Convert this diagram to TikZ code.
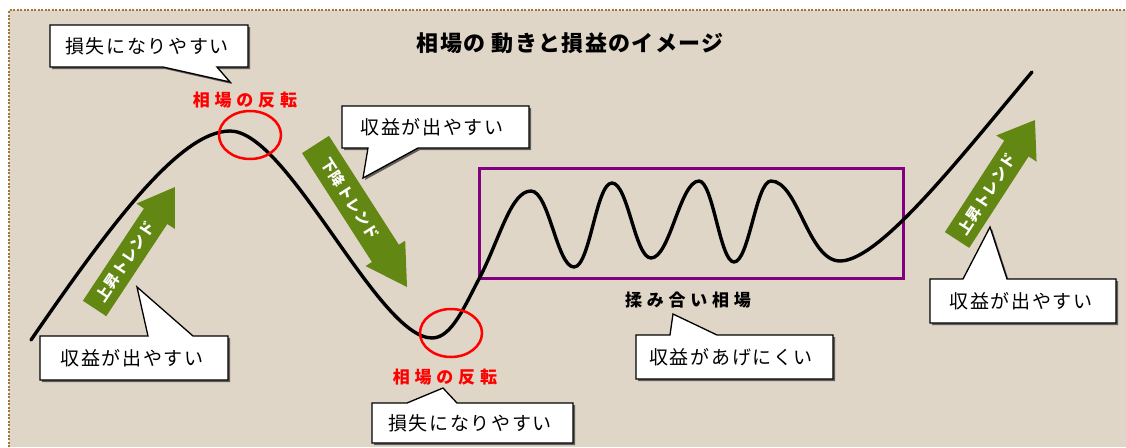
\documentclass[tikz,border=0pt]{standalone}
\usepackage{fontspec}
\newfontfamily\jpc[LetterSpace=9]{Noto Sans CJK JP}
\newfontfamily\jpr[LetterSpace=28]{Noto Sans CJK JP}
\newfontfamily\jpt[LetterSpace=6]{Noto Sans CJK JP}
\newfontfamily\jpa[LetterSpace=4]{Noto Sans CJK JP}
\usetikzlibrary{shapes.geometric,shadows}
\definecolor{bgc}{RGB}{224,214,200}
\definecolor{brd}{RGB}{165,115,60}
\definecolor{agreen}{RGB}{98,135,18}
\definecolor{rangec}{RGB}{128,0,128}
\tikzset{
  callout/.style={draw=black, line width=1.3pt, fill=white, line join=miter,
    drop shadow={shadow xshift=2pt, shadow yshift=-2pt, fill=black!75, opacity=0.8}},
  ctext/.style={font=\jpc\fontsize{19}{21}\selectfont, inner sep=0pt},
  redtext/.style={font=\jpr\bfseries\fontsize{17}{19}\selectfont, text=red, inner sep=0pt},
  revcircle/.style={ellipse, draw=red, line width=2.5pt, minimum width=62pt, minimum height=48pt, inner sep=0pt},
  arrowtext/.style={font=\jpa\bfseries\fontsize{15}{17}\selectfont, text=white, inner sep=0pt},
  trendarrow/.style={fill=agreen},
  price/.style={draw=black, line width=3.4pt, line cap=round, line join=round}
}
\begin{document}
\begin{tikzpicture}[x=1pt,y=-1pt]
\useasboundingbox (0,0) rectangle (1126,447);
\fill[white] (0,0) rectangle (1126,447);
\fill[bgc] (9,10) rectangle (1126,447);
\draw[brd, line width=2pt, dash pattern=on 2pt off 1.5pt] (9,447) -- (9,10) -- (1126,10);

% title
\node[font=\jpt\bfseries\fontsize{22}{26}\selectfont, inner sep=0pt] (title) at (570,43) {相場の 動きと損益のイメージ};

% range box
\node[draw=rangec, line width=3pt, minimum width=424pt, minimum height=110pt, inner sep=0pt] (range) at (691,223) {};

% price curve
\draw[price] (31,340) .. controls (110,225) and (180,131) .. (230,131)
  .. controls (288,131) and (378,338) .. (432,338)
  .. controls (452,338) and (465,305) .. (480,277)
  .. controls (500,238) and (511,191) .. (531,191)
  .. controls (549,191) and (557,267) .. (574,267)
  .. controls (590,267) and (596,183) .. (612,183)
  .. controls (628,183) and (635,258) .. (651,258)
  .. controls (670,258) and (680,181) .. (699,181)
  .. controls (713,181) and (720,262) .. (734,262)
  .. controls (749,262) and (756,181) .. (771,181)
  .. controls (798,181) and (808,261) .. (840,261)
  .. controls (880,261) and (962,155) .. (1032,72);

% trend arrows
\begin{scope}[shift={(134.75,247.75)}, rotate=56.5]
  \fill[trendarrow] (-72.8,-14) -- (37.8,-14) -- (37.8,-23) -- (72.8,0) -- (37.8,23) -- (37.8,14) -- (-72.8,14) -- cycle;
  \node[arrowtext, rotate=56.5] (up1) at (-17,0) {上昇トレンド};
\end{scope}
\begin{scope}[shift={(361.25,215.75)}, rotate=-57.3]
  \fill[trendarrow] (-84.7,-16) -- (44.7,-16) -- (44.7,-23.5) -- (84.7,0) -- (44.7,23.5) -- (44.7,16) -- (-84.7,16) -- cycle;
  \node[arrowtext, rotate=-57.3] (down1) at (-20,0) {下降トレンド};
\end{scope}
\begin{scope}[shift={(996,180)}, rotate=57]
  \fill[trendarrow] (-71.5,-14.5) -- (37.5,-14.5) -- (37.5,-24) -- (71.5,0) -- (37.5,24) -- (37.5,14.5) -- (-71.5,14.5) -- cycle;
  \node[arrowtext, rotate=57] (up2) at (-17,0) {上昇トレンド};
\end{scope}

% reversal circles and labels
\node[revcircle] (rev1) at (250,135) {};
\node[revcircle] (rev2) at (451,333) {};
\node[redtext] (revtext1) at (245,100) {相場の反転};
\node[redtext] (revtext2) at (445,377) {相場の反転};
\node[font=\jpr\bfseries\fontsize{17}{19}\selectfont, inner sep=0pt] (rangetext) at (688,300) {揉み合い相場};

% callouts
\coordinate (t1) at (230,82);
\coordinate (t2) at (363,178);
\coordinate (t3) at (137,287);
\coordinate (t4) at (443,388);
\coordinate (t5) at (673,314);
\coordinate (t6) at (990,227);
\path[callout] (50,25) -- (248,25) -- (248,67) -- (217,67) -- (t1) -- (163,67) -- (50,67) -- cycle;
\path[callout] (342,106) -- (529,106) -- (529,148) -- (418,148) -- (t2) -- (368,148) -- (342,148) -- cycle;
\path[callout] (40,336) -- (148,336) -- (t3) -- (193,336) -- (228,336) -- (228,380) -- (40,380) -- cycle;
\path[callout] (372,403) -- (407,403) -- (t4) -- (457,403) -- (573,403) -- (573,443) -- (372,443) -- cycle;
\path[callout] (636,335) -- (670,335) -- (t5) -- (717,335) -- (833,335) -- (833,379) -- (636,379) -- cycle;
\path[callout] (930,279) -- (963,279) -- (t6) -- (1007,279) -- (1116,279) -- (1116,323) -- (930,323) -- cycle;
\node[ctext] (c1) at (147,46) {損失になりやすい};
\node[ctext] (c2) at (432,127) {収益が出やすい};
\node[ctext] (c3) at (132,358) {収益が出やすい};
\node[ctext] (c4) at (470,423) {損失になりやすい};
\node[ctext] (c5) at (731,357) {収益があげにくい};
\node[ctext] (c6) at (1021,301) {収益が出やすい};
\end{tikzpicture}
\end{document}
